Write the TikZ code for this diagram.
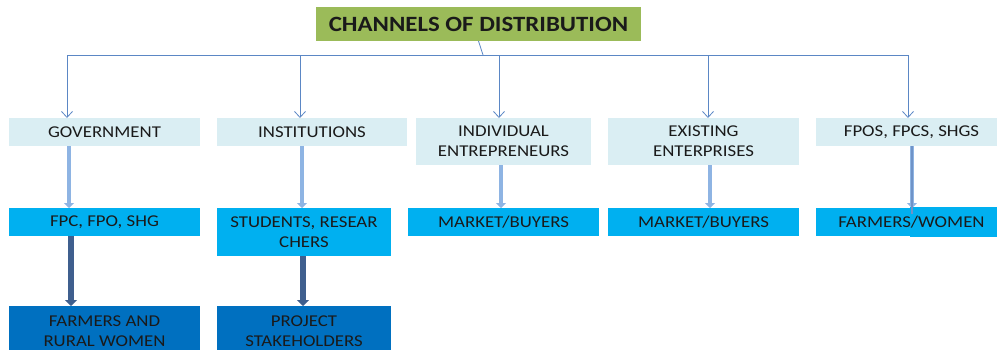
\documentclass[tikz,border=0pt]{standalone}
\usepackage{fontspec}
\setmainfont{Carlito}[FakeStretch=1.14]
\usetikzlibrary{arrows.meta}
\definecolor{titlegreen}{HTML}{9BBB59}
\definecolor{paleblue}{HTML}{DAEEF3}
\definecolor{midblue}{HTML}{00B0F0}
\definecolor{deepblue}{HTML}{0070C0}
\definecolor{thinline}{HTML}{5B87C5}
\definecolor{lightarrow}{HTML}{8EB4E3}
\definecolor{lightarrowcore}{HTML}{6F93C8}
\definecolor{darkarrow}{HTML}{3F5F8E}
\definecolor{txt}{HTML}{1A1A1A}
\tikzset{
  box/.style={anchor=north west, inner sep=0pt, outer sep=0pt, align=center,
    text=txt, font=\fontsize{16.5}{20}\selectfont},
  palebox/.style={box, fill=paleblue},
  midbox/.style={box, fill=midblue},
  deepbox/.style={box, fill=deepblue},
  thinconn/.style={draw=thinline, line width=0.8pt},
  thinarrow/.style={thinconn, -{Straight Barb[length=6pt,width=11pt,line width=0.8pt]}},
  lightconn/.style={draw=lightarrow, line width=4.8pt, -{Triangle[width=10pt,length=5pt]}},
  darkconn/.style={draw=darkarrow, line width=6pt, -{Triangle[width=12pt,length=6pt]}},
}
\begin{document}
\begin{tikzpicture}[x=1pt,y=-1pt]
\useasboundingbox (0,0) rectangle (997,349);
\clip (0,0) rectangle (997,349);
% title
\node[box, fill=titlegreen, minimum width=325pt, minimum height=34pt,
  font=\fontsize{21.8}{24}\selectfont\bfseries] (title) at (316,7) {CHANNELS OF DISTRIBUTION};
% row 1
\node[palebox, minimum width=191pt, minimum height=28pt] (gov) at (9,118) {GOVERNMENT};
\node[palebox, minimum width=190pt, minimum height=28pt] (inst) at (217,118) {INSTITUTIONS};
\node[palebox, minimum width=175pt, minimum height=47pt] (indiv) at (416,118) {INDIVIDUAL\\ENTREPRENEURS};
\node[palebox, minimum width=191pt, minimum height=47pt] (exist) at (608,118) {EXISTING\\ENTERPRISES};
\node[palebox, minimum width=191pt, minimum height=28pt] (fpos) at (816,118) {FPOS, FPCS, SHGS};
% row 2
\node[midbox, minimum width=191pt, minimum height=28pt] (fpc) at (9,208) {FPC, FPO, SHG};
\node[midbox, minimum width=174pt, minimum height=48pt] (stud) at (217,208) {STUDENTS, RESEAR\\CHERS};
\node[midbox, minimum width=191pt, minimum height=28pt] (mkta) at (408,208) {MARKET/BUYERS};
\node[midbox, minimum width=191pt, minimum height=28pt] (mktb) at (608,208) {MARKET/BUYERS};
\fill[midblue] (910,207) rectangle (1007,237);
\node[midbox, minimum width=191pt, minimum height=28pt] (fw) at (816,208) {FARMERS/WOMEN};
% row 3
\node[deepbox, minimum width=191pt, minimum height=50pt] (farm) at (9,306) {FARMERS AND\\RURAL WOMEN};
\node[deepbox, minimum width=174pt, minimum height=50pt] (proj) at (217,306) {PROJECT\\STAKEHOLDERS};
% tree connectors
\coordinate (hub) at (483,55);
\coordinate (hl) at (67,55);
\coordinate (hr) at (908,55);
\coordinate (d1) at (67,55);
\coordinate (d2) at (300,55);
\coordinate (d3) at (499,55);
\coordinate (d4) at (708,55);
\coordinate (d5) at (908,55);
\draw[thinconn] (title.south) -- (hub);
\draw[thinconn] (hl) -- (hr);
\draw[thinarrow] (d1) -- (d1 |- gov.north);
\draw[thinarrow] (d2) -- (d2 |- inst.north);
\draw[thinarrow] (d3) -- (d3 |- indiv.north);
\draw[thinarrow] (d4) -- (d4 |- exist.north);
\draw[thinarrow] (d5) -- (d5 |- fpos.north);
% thick arrows
\coordinate (a1) at (69,0);
\coordinate (a2) at (302,0);
\coordinate (a3) at (501,0);
\coordinate (a4) at (710,0);
\coordinate (a5) at (912,0);
\coordinate (b1) at (71,0);
\coordinate (b2) at (303,0);
\draw[lightconn] (a1 |- gov.south) -- (a1 |- fpc.north);
\draw[lightconn] (a2 |- inst.south) -- (a2 |- stud.north);
\draw[lightconn] (a3 |- indiv.south) -- (a3 |- mkta.north);
\draw[lightconn] (a4 |- exist.south) -- (a4 |- mktb.north);
\draw[lightconn] (a5 |- fpos.south) -- (a5 |- fw.north);
\draw[draw=lightarrowcore, line width=1.6pt] (a5 |- fpos.south) -- ([yshift=-6pt]a5 |- fw.north);
\draw[darkconn] (b1 |- fpc.south) -- (b1 |- farm.north);
\draw[darkconn] (b2 |- stud.south) -- (b2 |- proj.north);
\end{tikzpicture}
\end{document}
